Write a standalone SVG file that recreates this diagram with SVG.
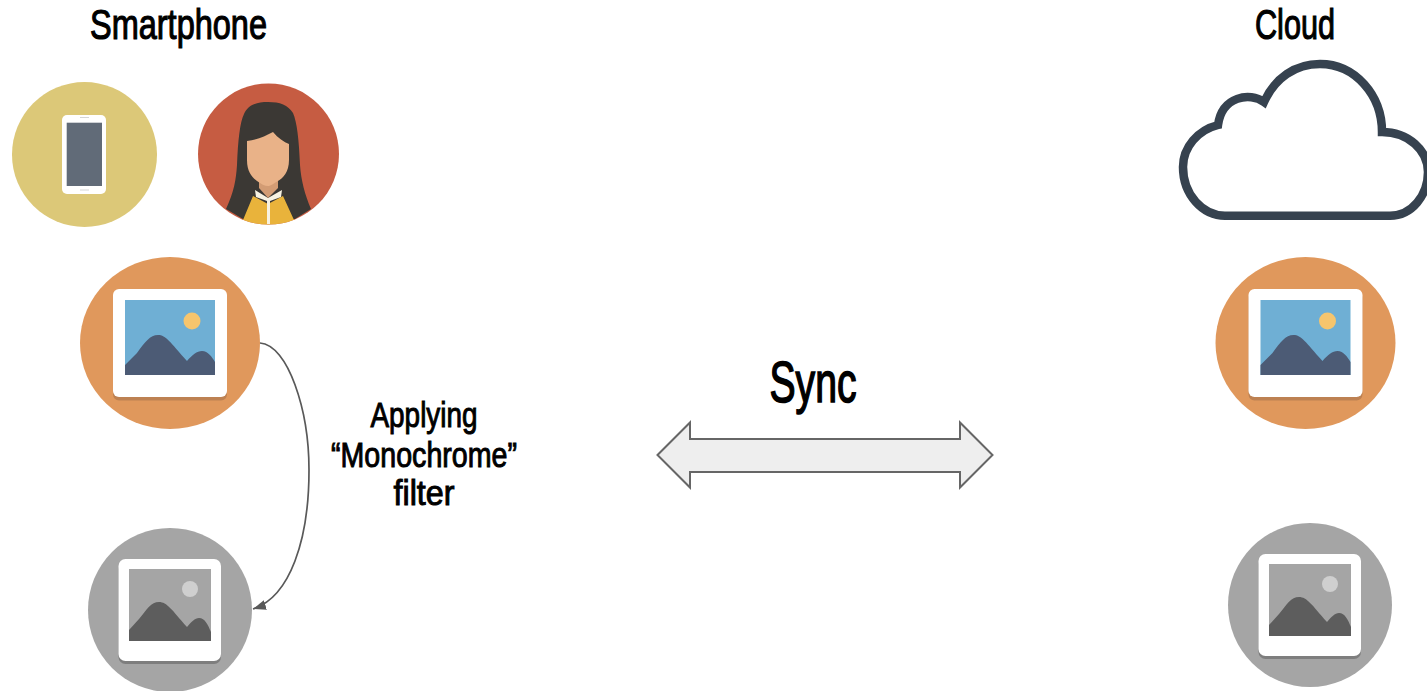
<svg xmlns="http://www.w3.org/2000/svg" width="1427" height="691" viewBox="0 0 1427 691">
<style>
text{font-family:"Liberation Sans Narrow","Liberation Sans",sans-serif;fill:#000;stroke:#000;stroke-width:.028em;text-anchor:middle}
.frame{fill:#fff}
.con{fill:none;stroke:#595959;stroke-width:1.7}
</style>
<defs>
<marker id="ah" markerUnits="userSpaceOnUse" markerWidth="16" markerHeight="12" refX="13" refY="5" orient="auto"><path d="M0 0L13 5L0 10Z" fill="#595959"/></marker>
<clipPath id="wc"><circle cx="268.500" cy="154" r="70.500"/></clipPath>
<g id="photoColor">
<ellipse cx="170" cy="343" rx="90" ry="86" fill="#e0985c"/>
<rect x="113" y="292" width="114" height="108.500" rx="6" fill="#bd8152"/>
<rect x="113" y="289" width="114" height="108" rx="6" class="frame"/>
<rect x="125" y="300" width="90" height="75" fill="#6fafd4"/>
<circle cx="192" cy="321" r="8.500" fill="#f6c56d"/>
<path d="M125 365L137 353C145 342 150 335 158 335C166 335 170 342 187 361C192 355 197 351 202 351C208 351 212 357 215 362V375H125Z" fill="#4c5b75"/>
</g>
<g id="photoGray">
<circle cx="170" cy="610" r="82" fill="#a5a5a5"/>
<rect x="118.500" y="562" width="102.500" height="102" rx="7" fill="#7e7e7e"/>
<rect x="118.500" y="559" width="102.500" height="102" rx="7" class="frame"/>
<rect x="129" y="569" width="82" height="72" fill="#a5a5a5"/>
<circle cx="190" cy="589" r="8" fill="#cfcfcf"/>
<path d="M129 630L139 619C147 609 151 602 159 602C167 602 172 610 187 627C191 622 195 618 199 618C205 618 208 625 211 632V641H129Z" fill="#5d5d5d"/>
</g>
</defs>
<rect width="1427" height="691" fill="#fff"/>
<g id="label-smartphone"><text x="178.500" y="39" font-size="43" textLength="177" lengthAdjust="spacingAndGlyphs">Smartphone</text></g>
<g id="label-cloud"><text x="1295" y="39" font-size="43" textLength="80" lengthAdjust="spacingAndGlyphs">Cloud</text></g>
<g id="node-phone">
<circle cx="84.500" cy="154.500" r="72.500" fill="#dcc878"/>
<rect x="62" y="115" width="44" height="79" rx="5" fill="#fff"/>
<rect x="66.700" y="122.700" width="35.300" height="63.300" fill="#616b78"/>
<path d="M80 117.500H89M80 190H89" stroke="#d5d5d5" stroke-width="1"/>
</g>
<g id="node-woman">
<circle cx="268.500" cy="154" r="70.500" fill="#c65c42"/>
<g clip-path="url(#wc)">
<path d="M268 102C256 102 248 105 244 114C240 122 238 140 237 165C236 180 234 192 226 209L243 219H295L311 209C305 195 301 180 300 165C299 140 297 122 293 113C288 105 280 102 268 102Z" fill="#3b3834"/>
<path d="M253 196L243 220L247 226H290L294 220L283 196L268 204Z" fill="#e9b33b"/>
<path d="M255 190L256 197L267 201H270L281 197L282 190L268 198Z" fill="#f7f2e2"/>
<rect x="267" y="200" width="3" height="24" fill="#f7f2e2"/>
<path d="M259 176H278V188L268 198L259 188Z" fill="#d39c74"/>
<path d="M247 141C258 140 265 136 273 132C278 138 284 142 289 144V160C289 172 283 178 278 181C273 184 270 186 268 186C265 186 261 184 257 181C252 177 247 172 247 160Z" fill="#e9b288"/>
</g>
</g>
<g id="node-cloud">
<path d="M1225 215.700H1390C1412 215.700 1428 195 1428 172C1428 150 1408 132 1382 132C1382 95 1355 64 1320 64C1295 64 1275 78 1264 102C1250 92 1222 96 1218 125C1198 130 1183 147 1183 167C1183 195 1203 215.700 1225 215.700Z" fill="#fff" stroke="#36424f" stroke-width="8.500" stroke-linejoin="miter"/>
</g>
<g id="node-photo-left"><use href="#photoColor"/></g>
<g id="node-photo-gray-left"><use href="#photoGray"/></g>
<g id="node-photo-right"><use href="#photoColor" x="1135.500"/></g>
<g id="node-photo-gray-right"><use href="#photoGray" x="1140" y="-5"/></g>
<g id="connectors">
<path class="con" d="M260 343C288 345 309 410 309 470C309 540 290 597 253 609" marker-end="url(#ah)"/>
<path id="sync-arrow" d="M657.500 455L690 422.500V439H960V422.500L992.500 455L960 487.500V472H690V487.500Z" fill="#eeeeee" stroke="#666" stroke-width="2"/>
</g>
<g id="label-filter">
<text x="424" y="427" font-size="35" textLength="107" lengthAdjust="spacingAndGlyphs">Applying</text>
<text x="424" y="466.500" font-size="35" textLength="186" lengthAdjust="spacingAndGlyphs">“Monochrome”</text>
<text x="424" y="505" font-size="35" textLength="61" lengthAdjust="spacingAndGlyphs">filter</text>
</g>
<g id="label-sync"><text x="813" y="402" font-size="57" textLength="87" lengthAdjust="spacingAndGlyphs">Sync</text></g>
</svg>
